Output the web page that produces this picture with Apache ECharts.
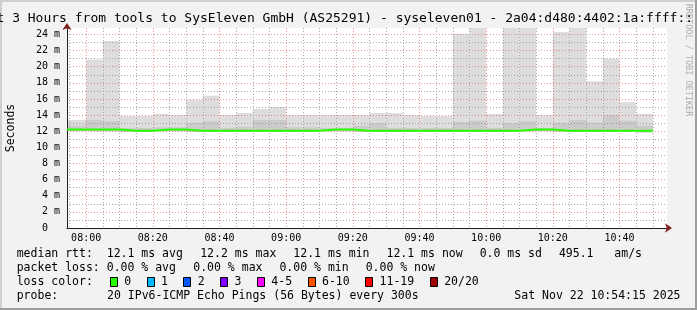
<!DOCTYPE html>
<html>
<head>
<meta charset="utf-8">
<script src="https://cdn.jsdelivr.net/npm/echarts@6/dist/echarts.min.js"></script>
<style>
html,body{margin:0;padding:0;background:#f2f2f2;}
#chart{width:697px;height:310px;}
</style>
</head>
<body>
<div id="chart"></div>
<script>
// ---------------- DATA ----------------
const axisStart = "07:54:15";
const axisEnd = "10:54:15";
// start time of each 5-minute bucket (first one is cut by the graph start)
const bucketStart = ["07:54:15","08:00","08:05","08:10","08:15","08:20","08:25","08:30","08:35","08:40",
  "08:45","08:50","08:55","09:00","09:05","09:10","09:15","09:20","09:25","09:30",
  "09:35","09:40","09:45","09:50","09:55","10:00","10:05","10:10","10:15","10:20",
  "10:25","10:30","10:35","10:40","10:45"];
const lastBucketEnd = "10:50";
// smoke (ms): lowest ping, top of the dense core, highest ping
const smokeMin = [12.0,12.0,12.0,11.95,11.95,12.0,12.0,11.95,11.95,11.95,
  11.95,11.95,11.95,11.95,11.95,12.0,12.0,11.95,11.95,11.95,
  11.95,11.95,11.95,11.95,11.95,11.95,11.95,12.0,12.0,11.95,
  11.95,11.95,11.95,11.95,11.85];
const smokeCore = [12.7,13.4,13.25,12.4,12.4,12.5,12.5,13.05,13.25,12.4,
  12.55,13.4,13.4,12.5,12.5,12.4,12.4,12.7,13.0,12.4,
  12.4,12.4,12.4,13.15,13.3,12.4,13.0,13.25,12.4,13.05,
  13.4,13.05,14.0,13.3,12.7];
const smokeMax = [13.4,20.9,23.2,13.9,13.9,14.15,14.0,15.9,16.4,14.0,
  14.25,14.75,15.0,14.0,14.0,14.0,14.0,14.0,14.25,14.25,
  14.0,13.9,13.9,24.1,25.0,14.15,25.0,25.0,14.0,24.3,
  25.0,18.2,21.0,15.6,14.15];
const medianRtt = [12.22,12.22,12.22,12.07,12.07,12.22,12.22,12.07,12.07,12.07,
  12.07,12.07,12.07,12.07,12.07,12.22,12.22,12.07,12.07,12.07,
  12.07,12.07,12.07,12.07,12.07,12.07,12.07,12.22,12.22,12.07,
  12.07,12.07,12.07,12.07,12.07];
const yMax = 24.8;

const titleText = "Last 3 Hours from tools to SysEleven GmbH (AS25291) - syseleven01 - 2a04:d480:4402:1a:ffff::";
const yAxisName = "Seconds";
const watermark = "RRDTOOL / TOBI OETIKER";
const legendRtt = ["median rtt:  12.1 ms avg","12.2 ms max","12.1 ms min","12.1 ms now","0.0 ms sd","495.1   am/s"];
const legendLoss = ["packet loss: 0.00 % avg","0.00 % max","0.00 % min","0.00 % now"];
const lossTitle = "loss color:";
const lossLabels = ["0","1","2","3","4-5","6-10","11-19","20/20"];
const lossColors = ["#26ff00","#00b8ff","#0059ff","#7e00ff","#ff00ff","#ff5500","#ff0000","#a10000"];
const probeTitle = "probe:";
const probeText = "20 IPv6-ICMP Echo Pings (56 Bytes) every 300s";
const dateText = "Sat Nov 22 10:54:15 2025";

// ---------------- helpers ----------------
function toMin(s){ const p = s.split(':').map(Number); return p[0]*60 + p[1] + (p[2]||0)/60 - 480; }
function fmtTime(v){ const t = Math.round(v) + 480; const h = Math.floor(t/60), m = t%60; return (h<10?'0':'')+h+':'+(m<10?'0':'')+m; }

const smokeData = bucketStart.map((s,i)=>[toMin(s), toMin(i+1<bucketStart.length?bucketStart[i+1]:lastBucketEnd), smokeMin[i], smokeCore[i], smokeMax[i]]);
const medianData = bucketStart.map((s,i)=>[toMin(s), medianRtt[i]]);
medianData.push([toMin(lastBucketEnd), medianRtt[medianRtt.length-1]]);

const MONO = "DejaVu Sans Mono";
const CW = 6.95;
const graphics = [];
// 3d border
graphics.push({type:'rect', shape:{x:0,y:0,width:697,height:2}, style:{fill:'#cfcfcf'}, silent:true});
graphics.push({type:'rect', shape:{x:0,y:0,width:2,height:310}, style:{fill:'#cfcfcf'}, silent:true});
graphics.push({type:'rect', shape:{x:0,y:308,width:697,height:2}, style:{fill:'#9e9e9e'}, silent:true});
graphics.push({type:'rect', shape:{x:695,y:0,width:2,height:310}, style:{fill:'#9e9e9e'}, silent:true});
// title
graphics.push({type:'text', x:-27, y:19, style:{text:titleText, font:'13px "'+MONO+'"', fill:'#000', verticalAlign:'middle', align:'left'}, silent:true});
// watermark
graphics.push({type:'text', x:688, y:60, rotation:-Math.PI/2, style:{text:watermark, font:'8.5px "'+MONO+'"', fill:'rgba(0,0,0,0.3)', align:'center', verticalAlign:'middle'}, silent:true});
// legend lines
function textLine(entries, y, gap){
  let x = 16.7;
  entries.forEach(t=>{
    graphics.push({type:'text', x:x, y:y, style:{text:t, font:'11.5px "'+MONO+'"', fill:'#000', verticalAlign:'middle'}, silent:true});
    x += t.length*CW + gap;
  });
}
textLine(legendRtt, 254.5, 16.7);
textLine(legendLoss, 268.5, 16.7);
graphics.push({type:'text', x:16.7, y:282.5, style:{text:lossTitle, font:'11.5px "'+MONO+'"', fill:'#000', verticalAlign:'middle'}, silent:true});
(function(){
  let x = 16.7 + lossTitle.length*CW + 16.7;
  lossLabels.forEach((t,i)=>{
    graphics.push({type:'rect', shape:{x:Math.round(x)+0.5, y:277.5, width:7, height:9}, style:{fill:lossColors[i], stroke:'#000', lineWidth:1}, silent:true});
    graphics.push({type:'text', x:x+14.5, y:282.5, style:{text:t, font:'11.5px "'+MONO+'"', fill:'#000', verticalAlign:'middle'}, silent:true});
    x += 14.5 + t.length*CW + 15.3;
  });
})();
graphics.push({type:'text', x:16.7, y:296.5, style:{text:probeTitle, font:'11.5px "'+MONO+'"', fill:'#000', verticalAlign:'middle'}, silent:true});
graphics.push({type:'text', x:16.7+13*CW, y:296.5, style:{text:probeText, font:'11.5px "'+MONO+'"', fill:'#000', verticalAlign:'middle'}, silent:true});
graphics.push({type:'text', x:680.5, y:296.5, style:{text:dateText, font:'11.5px "'+MONO+'"', fill:'#000', verticalAlign:'middle', align:'right'}, silent:true});

const majorGrid = {show:true, lineStyle:{color:'rgba(222,79,79,0.6)', type:[1,2], width:1}};
const minorGrid = {show:true, lineStyle:{color:'rgba(143,143,143,0.75)', type:[1,2], width:1}};
// arrow-only axes (rrdtool draws the axis arrows in dark red)
const arrowLine = {show:true, onZero:false, lineStyle:{color:'#801f1f', width:0}, symbol:['none','arrow'], symbolSize:[7,7], symbolOffset:[0,5]};

const chart = echarts.init(document.getElementById('chart'), null, {renderer:'canvas'});
chart.setOption({
  animation:false,
  backgroundColor:'#f2f2f2',
  textStyle:{fontFamily:MONO},
  grid:{left:67, top:28, width:600, height:200, show:true, backgroundColor:'#ffffff', borderWidth:0, containLabel:false, outerBoundsMode:'none'},
  xAxis:[{
    type:'value', min:toMin(axisStart), max:toMin(axisEnd), splitNumber:9, z:5,
    axisLine:{show:true, onZero:false, lineStyle:{color:'#1f1f1f', width:1}},
    axisTick:{show:false},
    minorTick:{show:false, splitNumber:4},
    axisLabel:{show:true, showMinLabel:false, showMaxLabel:false, formatter:fmtTime, fontFamily:MONO, fontSize:10, color:'#000', margin:5},
    splitLine:Object.assign({showMinLine:false, showMaxLine:false}, majorGrid),
    minorSplitLine:minorGrid
  },{
    type:'value', min:toMin(axisStart), max:toMin(axisEnd), position:'bottom', z:6,
    axisLine:arrowLine, axisTick:{show:false}, axisLabel:{show:false}, splitLine:{show:false}
  }],
  yAxis:[{
    type:'value', min:0, max:yMax, interval:2, z:5,
    name:yAxisName, nameLocation:'middle', nameGap:50, nameRotate:90,
    nameTextStyle:{fontFamily:MONO, fontSize:11.5, color:'#000'},
    axisLine:{show:true, onZero:false, lineStyle:{color:'#1f1f1f', width:1}},
    axisTick:{show:false},
    minorTick:{show:false, splitNumber:2},
    axisLabel:{showMaxLabel:false, fontFamily:MONO, fontSize:10, color:'#000', margin:7,
      formatter:v=> v===0 ? '0  ' : v+' m'},
    splitLine:Object.assign({showMinLine:false, showMaxLine:false}, majorGrid),
    minorSplitLine:minorGrid
  },{
    type:'value', min:0, max:yMax, position:'left', z:6,
    axisLine:arrowLine, axisTick:{show:false}, axisLabel:{show:false}, splitLine:{show:false}
  }],
  series:[{
    type:'custom',
    z:1,
    data:smokeData,
    encode:{x:[0,1], y:[2,3,4]},
    renderItem:function(params, api){
      const x0=api.value(0), x1=api.value(1), lo=api.value(2), core=api.value(3), hi=api.value(4);
      const pTop=api.coord([x0,hi]), pBot=api.coord([x1,lo]), pCore=api.coord([x0,core]);
      const cs=params.coordSys;
      const outer=echarts.graphic.clipRectByRect({x:pTop[0], y:pTop[1], width:pBot[0]-pTop[0], height:pBot[1]-pTop[1]}, cs);
      const inner=echarts.graphic.clipRectByRect({x:pTop[0], y:pCore[1], width:pBot[0]-pTop[0], height:pBot[1]-pCore[1]}, cs);
      const ch=[];
      if(outer) ch.push({type:'rect', shape:outer, style:{fill:'#dddddd'}});
      if(inner) ch.push({type:'rect', shape:inner, style:{fill:'#cbcbcb'}});
      return {type:'group', children:ch};
    }
  },{
    type:'line',
    z:10,
    data:medianData,
    step:'end',
    symbol:'none',
    clip:true,
    lineStyle:{color:'#26ff00', width:2}
  }],
  graphic:graphics
});
</script>
</body>
</html>
